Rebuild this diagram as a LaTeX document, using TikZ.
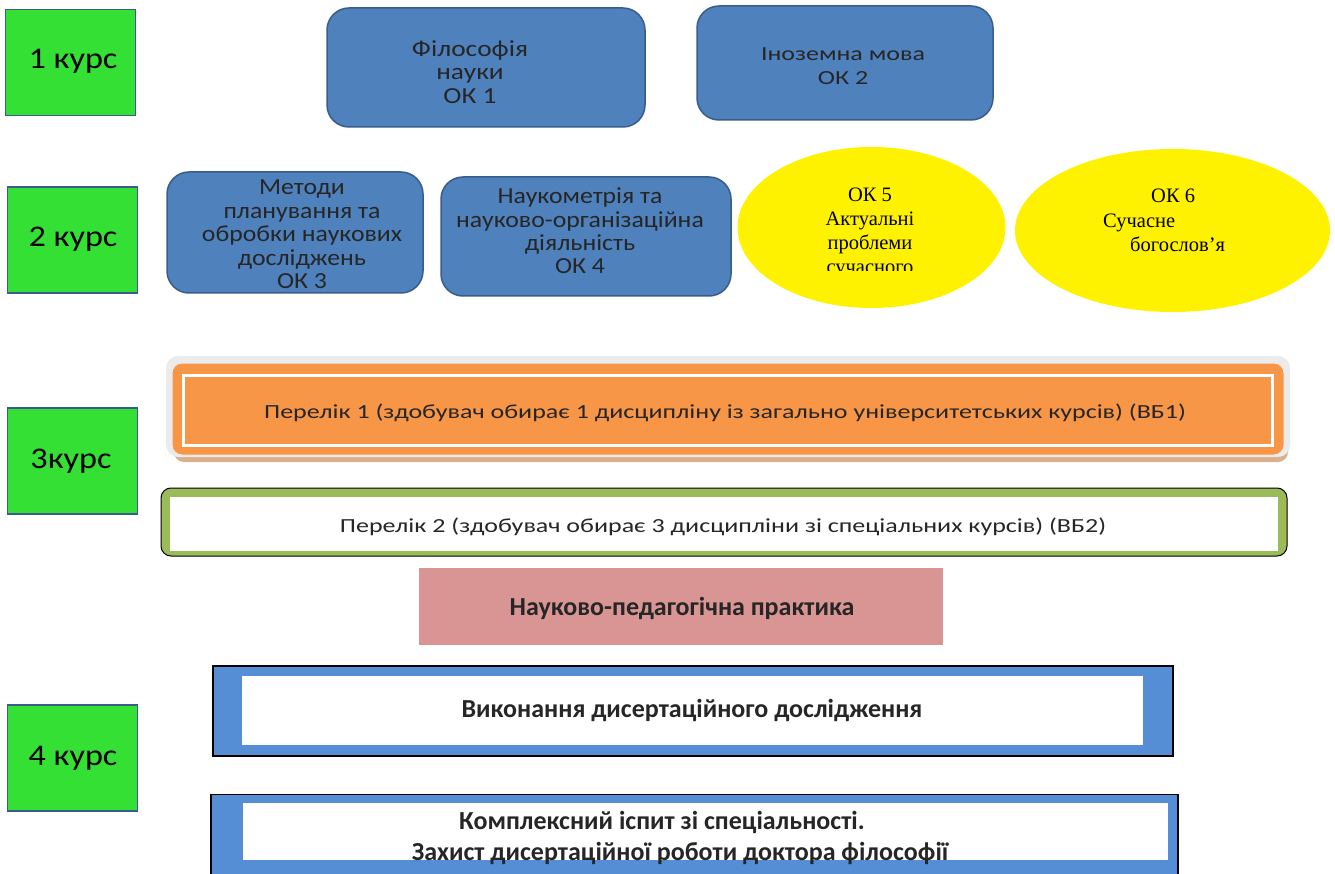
\documentclass[tikz,border=0pt]{standalone}
\usepackage{fontspec}
\setmainfont{Carlito}
\newfontfamily\serifrm{Liberation Serif}
\newfontfamily\stA[FakeStretch=1.12]{Carlito}
\newfontfamily\stB[FakeStretch=1.19]{Carlito}
\newfontfamily\stC[FakeStretch=1.3]{Carlito}
\newfontfamily\stD[FakeStretch=1.14]{Carlito}
\usetikzlibrary{shapes.geometric}
\definecolor{kgreen}{HTML}{33E033}
\definecolor{kblue}{HTML}{4F81BD}
\definecolor{kblueline}{HTML}{385D8A}
\definecolor{korange}{HTML}{F79646}
\definecolor{kolive}{HTML}{9BBB59}
\definecolor{kpink}{HTML}{D99594}
\definecolor{kframe}{HTML}{558ED5}
\definecolor{kshadow}{HTML}{D9B08C}
\tikzset{
  coursebox/.style={draw=kblueline, line width=1.2pt, fill=kgreen, minimum width=130pt, minimum height=106pt, inner sep=0pt},
  coursetext/.style={anchor=base, inner sep=0pt, font=\stD\fontsize{30}{32}\selectfont},
  okbox/.style={draw=kblueline, line width=1.5pt, fill=kblue, rounded corners=22pt, inner sep=0pt},
  oktext/.style={align=center, inner sep=0pt, text=black!85},
  okell/.style={ellipse, fill=yellow, inner sep=0pt},
  serift/.style={inner sep=0pt, font=\serifrm\fontsize{20.5}{24}\selectfont},
  listtext/.style={anchor=base, inner sep=0pt, font=\stC\fontsize{20}{22}\selectfont, text=black!85},
  boldtext/.style={anchor=base, inner sep=0pt, font=\bfseries\fontsize{26}{30}\selectfont, text=black!85},
}
\begin{document}
\begin{tikzpicture}[x=1pt,y=-1pt]
\useasboundingbox (0,0) rectangle (1335,874);
% course labels
\node[coursebox] (c1) at (70.5,62.5) {};
\node[coursetext] (c1t) at (73,69) {1 курс};
\node[coursebox] (c2) at (72.5,240) {};
\node[coursetext] (c2t) at (73,247) {2 курс};
\node[coursebox] (c3) at (72.5,461) {};
\node[coursetext] (c3t) at (71,468) {3курс};
\node[coursebox] (c4) at (72.5,758) {};
\node[coursetext] (c4t) at (73,765) {4 курс};
% 1 course
\node[okbox, minimum width=318pt, minimum height=119pt] (ok1) at (486,67.5) {};
\node[oktext, font=\stB\fontsize{23}{23.5}\selectfont] (ok1t) at (470,72) {Філософія\\науки\\ОК 1};
\node[okbox, minimum width=296pt, minimum height=114pt] (ok2) at (845,63) {};
\node[oktext, font=\stC\fontsize{20}{24}\selectfont] (ok2t) at (843,66) {Іноземна мова\\ОК 2};
% 2 course
\node[okbox, minimum width=256pt, minimum height=121pt] (ok3) at (295,232.5) {};
\node[oktext, font=\stA\fontsize{23}{23.5}\selectfont] (ok3t) at (302,234.5) {Методи\\планування та\\обробки наукових\\досліджень\\ОК 3};
\node[okbox, minimum width=290pt, minimum height=119pt] (ok4) at (586,236.5) {};
\node[oktext, font=\stA\fontsize{23}{23.3}\selectfont] (ok4t) at (580,231) {Наукометрія та\\науково-організаційна\\діяльність\\ОК 4};
\node[okell, minimum width=268pt, minimum height=161pt] (ok5) at (871.5,227.5) {};
\begin{scope}
  \clip (740,150) rectangle (1005,271);
  \node[serift, align=center, anchor=north] (t5) at (870,188) {ОК 5\\Актуальні\\проблеми\\сучасного};
\end{scope}
\node[okell, minimum width=315pt, minimum height=163pt] (ok6) at (1172.5,230.5) {};
\node[serift, anchor=base west] (t6a) at (1151,203) {ОК 6};
\node[serift, anchor=base west] (t6b) at (1103,228) {Сучасне};
\node[serift, anchor=base west] (t6c) at (1130,252) {богослов’я};
% 3 course
\fill[kshadow, rounded corners=10pt] (174,370) rectangle (1288,462);
\fill[white!92!black, rounded corners=12pt] (166,356) rectangle (1290,457);
\node[draw=white!92!black, line width=1pt, fill=korange, rounded corners=10pt, minimum width=1112pt, minimum height=92pt, inner sep=0pt] (vb1box) at (728,409) {};
\node[draw=white, line width=3pt, fill=korange, minimum width=1089pt, minimum height=70pt, inner sep=0pt] (vb1) at (728,410) {};
\node[listtext] (vb1t) at (725,418) {Перелік 1 (здобувач обирає 1 дисципліну із загально університетських курсів) (ВБ1)};
\node[draw=black, line width=1pt, fill=kolive, rounded corners=10pt, minimum width=1126pt, minimum height=68pt, inner sep=0pt] (vb2box) at (724,522) {};
\node[fill=white, minimum width=1108pt, minimum height=54pt, inner sep=0pt] (vb2) at (724,524) {};
\node[listtext] (vb2t) at (723,532) {Перелік 2 (здобувач обирає 3 дисципліни зі спеціальних курсів) (ВБ2)};
\node[fill=kpink, minimum width=524pt, minimum height=77pt, inner sep=0pt] (prac) at (681,606.5) {};
\node[boldtext] (pract) at (682,615) {Науково-педагогічна практика};
% 4 course
\node[draw=black, line width=1.2pt, fill=kframe, minimum width=960pt, minimum height=90pt, inner sep=0pt] (dis) at (693,711) {};
\node[fill=white, minimum width=901pt, minimum height=69pt, inner sep=0pt] (disw) at (692.5,710.5) {};
\node[boldtext] (dist) at (692,717) {Виконання дисертаційного дослідження};
\node[draw=black, line width=1.2pt, fill=kframe, minimum width=967pt, minimum height=90pt, inner sep=0pt, anchor=north] (ex) at (694.5,794) {};
\node[fill=white, minimum width=925pt, minimum height=57pt, inner sep=0pt] (exw) at (705.5,831.5) {};
\node[boldtext] (ext1) at (662,829) {Комплексний іспит зі спеціальності.};
\node[boldtext] (ext2) at (680,860) {Захист дисертаційної роботи доктора філософії};
\end{tikzpicture}
\end{document}
